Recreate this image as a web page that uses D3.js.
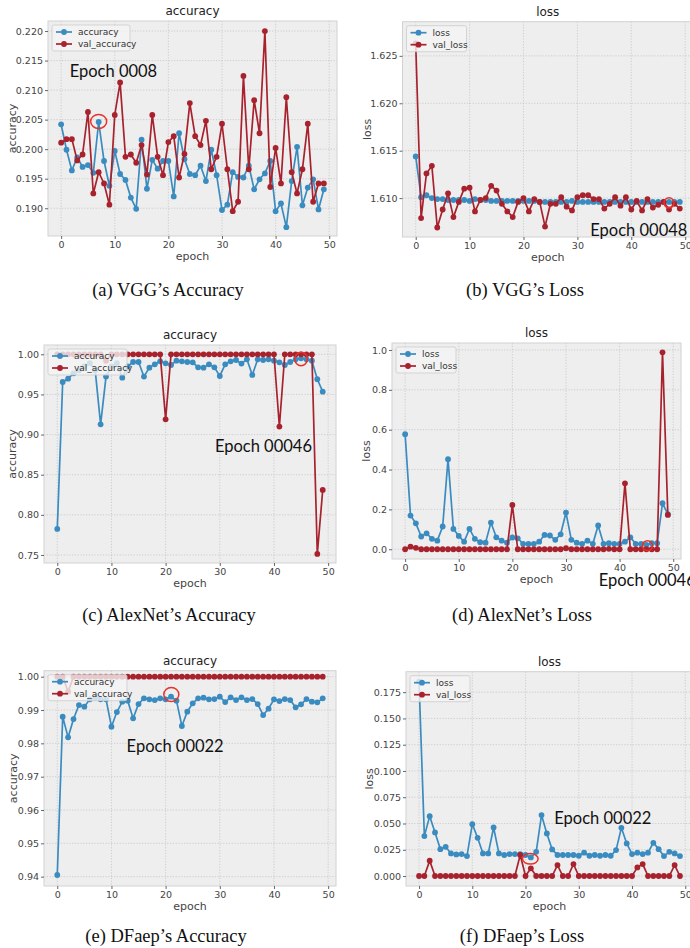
<!DOCTYPE html>
<html lang="en">
<head>
<meta charset="UTF-8">
<title>Training curves</title>
<style>
  * { margin: 0; padding: 0; }
  body { background: #fff; }
  text { font-family: "DejaVu Sans", sans-serif; }
</style>
</head>
<body>
<div id="chart"></div>
<script src="https://cdn.jsdelivr.net/npm/d3@7"></script>
<script>
// ---- data ----
const epochs = d3.range(50)
const xTicks = [0, 10, 20, 30, 40, 50]

const vggAcc = [0.2042, 0.1999, 0.1964, 0.1986, 0.1970, 0.1973, 0.1960, 0.2046, 0.1980, 0.1938,
  0.1997, 0.1958, 0.1948, 0.1918, 0.1899, 0.2016, 0.1933, 0.1982, 0.1967, 0.1980,
  0.1980, 0.1920, 0.2027, 0.1983, 0.1958, 0.1956, 0.1972, 0.1946, 0.1999, 0.1956,
  0.1897, 0.1906, 0.1961, 0.1953, 0.1952, 0.1972, 0.1932, 0.1949, 0.1959, 0.1980,
  0.1895, 0.1908, 0.1868, 0.1946, 0.2004, 0.1905, 0.1935, 0.1949, 0.1898, 0.1932]
const vggValAcc = [0.2011, 0.2017, 0.2017, 0.1981, 0.1991, 0.2063, 0.1925, 0.1961, 0.1942, 0.1906,
  0.2058, 0.2113, 0.1987, 0.1991, 0.1977, 0.2007, 0.1957, 0.2058, 0.1987, 0.1956,
  0.2012, 0.2022, 0.1952, 0.1992, 0.2078, 0.2022, 0.2007, 0.2048, 0.1966, 0.1987,
  0.2043, 0.1966, 0.1895, 0.1911, 0.2124, 0.1966, 0.2083, 0.2027, 0.2200, 0.1936,
  0.2002, 0.1942, 0.2088, 0.1961, 0.1925, 0.1966, 0.2043, 0.1911, 0.1942, 0.1942]
const vggLoss = [1.6144, 1.6101, 1.6103, 1.6100, 1.6099, 1.6099, 1.6098, 1.6098, 1.6098, 1.6098,
  1.6097, 1.6099, 1.6098, 1.6098, 1.6097, 1.6097, 1.6097, 1.6097, 1.6097, 1.6097,
  1.6097, 1.6097, 1.6097, 1.6096, 1.6096, 1.6096, 1.6096, 1.6096, 1.6096, 1.6097,
  1.6096, 1.6096, 1.6096, 1.6096, 1.6096, 1.6096, 1.6096, 1.6096, 1.6096, 1.6096,
  1.6096, 1.6096, 1.6096, 1.6096, 1.6096, 1.6096, 1.6096, 1.6096, 1.6096, 1.6096]
const vggValLoss = [1.6263, 1.6079, 1.6126, 1.6134, 1.6069, 1.6088, 1.6105, 1.6080, 1.6096, 1.6110,
  1.6111, 1.6086, 1.6098, 1.6100, 1.6113, 1.6108, 1.6094, 1.6086, 1.6080, 1.6096,
  1.6100, 1.6086, 1.6099, 1.6096, 1.6070, 1.6094, 1.6094, 1.6101, 1.6091, 1.6087,
  1.6101, 1.6103, 1.6103, 1.6099, 1.6099, 1.6089, 1.6094, 1.6101, 1.6092, 1.6101,
  1.6088, 1.6097, 1.6087, 1.6099, 1.6090, 1.6093, 1.6096, 1.6088, 1.6094, 1.6089]

const alexAcc = [0.7824, 0.9655, 0.9697, 0.9763, 0.9800, 0.9850, 0.9890, 0.9800, 0.9128, 0.9722,
  0.9850, 0.9890, 0.9709, 0.9850, 0.9904, 0.9904, 0.9722, 0.9834, 0.9875, 0.9913,
  0.9888, 0.9867, 0.9921, 0.9913, 0.9904, 0.9900, 0.9838, 0.9834, 0.9875, 0.9838,
  0.9730, 0.9875, 0.9913, 0.9929, 0.9884, 0.9938, 0.9743, 0.9938, 0.9929, 0.9938,
  0.9921, 0.9900, 0.9867, 0.9904, 0.9938, 0.9950, 0.9938, 0.9921, 0.9689, 0.9535]
const alexValAcc = [1, 1, 1, 1, 1, 1, 1, 1, 1, 0.992,
  1, 1, 1, 1, 1, 1, 1, 1, 1, 1,
  0.919, 1, 1, 1, 1, 1, 1, 1, 1, 1,
  1, 1, 1, 1, 1, 1, 1, 1, 1, 1,
  1, 0.910, 1, 1, 1, 1, 1, 1, 0.7513, 0.831]
const alexLoss = [0.577, 0.169, 0.130, 0.064, 0.080, 0.052, 0.043, 0.114, 0.452, 0.102,
  0.067, 0.038, 0.102, 0.052, 0.035, 0.033, 0.134, 0.060, 0.043, 0.033,
  0.059, 0.055, 0.027, 0.027, 0.027, 0.038, 0.072, 0.069, 0.047, 0.075,
  0.184, 0.047, 0.033, 0.027, 0.043, 0.027, 0.119, 0.027, 0.030, 0.027,
  0.027, 0.038, 0.060, 0.027, 0.027, 0.022, 0.030, 0.030, 0.231, 0.176]
const alexValLoss = [0.000, 0.013, 0.007, 0.000, 0.000, 0.000, 0.000, 0.000, 0.000, 0.000,
  0.000, 0.000, 0.000, 0.000, 0.000, 0.000, 0.000, 0.000, 0.000, 0.000,
  0.222, 0.000, 0.000, 0.000, 0.000, 0.000, 0.000, 0.000, 0.000, 0.000,
  0.005, 0.000, 0.000, 0.000, 0.000, 0.000, 0.000, 0.000, 0.002, 0.000,
  0.000, 0.331, 0.000, 0.000, 0.000, 0.000, 0.000, 0.000, 0.988, 0.172]

const dfaepAcc = [0.9405, 0.9880, 0.9818, 0.9873, 0.9915, 0.9910, 0.9932, 0.9937, 0.9932, 0.9932,
  0.9850, 0.9894, 0.9925, 0.9928, 0.9875, 0.9918, 0.9935, 0.9932, 0.9930, 0.9935,
  0.9932, 0.9940, 0.9928, 0.9852, 0.9895, 0.9920, 0.9935, 0.9937, 0.9932, 0.9933,
  0.9940, 0.9924, 0.9938, 0.9930, 0.9938, 0.9930, 0.9933, 0.9918, 0.9885, 0.9904,
  0.9932, 0.9927, 0.9933, 0.9930, 0.9908, 0.9917, 0.9933, 0.9925, 0.9923, 0.9935]
const dfaepValAcc = [1, 1, 0.9955, 1, 1, 1, 1, 1, 1, 1,
  1, 1, 1, 1, 1, 1, 1, 1, 1, 1,
  1, 1, 1, 1, 1, 1, 1, 1, 1, 1,
  1, 1, 1, 1, 1, 1, 1, 1, 1, 1,
  1, 1, 1, 1, 1, 1, 1, 1, 1, 1]
const dfaepLoss = [0.185, 0.038, 0.057, 0.0415, 0.0256, 0.0278, 0.0215, 0.0206, 0.0209, 0.019,
  0.0494, 0.0364, 0.0215, 0.0215, 0.0462, 0.0215, 0.020, 0.0209, 0.0209, 0.0209,
  0.020, 0.0177, 0.023, 0.058, 0.0405, 0.0253, 0.020, 0.020, 0.020, 0.020,
  0.0193, 0.0222, 0.0193, 0.020, 0.0193, 0.020, 0.0193, 0.0247, 0.0459, 0.031,
  0.0209, 0.0222, 0.0209, 0.0222, 0.0316, 0.0256, 0.019, 0.023, 0.0215, 0.019]
const dfaepValLoss = [0, 0, 0.0146, 0, 0, 0, 0, 0, 0, 0,
  0, 0, 0, 0, 0, 0, 0, 0, 0, 0.020,
  0, 0.0073, 0, 0, 0, 0, 0.0104, 0, 0, 0.0114,
  0, 0, 0, 0, 0, 0, 0, 0, 0, 0,
  0, 0.0082, 0.0114, 0, 0, 0, 0, 0, 0.0104, 0]

const vggAccTicks = [0.190, 0.195, 0.200, 0.205, 0.210, 0.215, 0.220]
const vggLossTicks = [1.610, 1.615, 1.620, 1.625]
const alexAccTicks = [0.75, 0.80, 0.85, 0.90, 0.95, 1.00]
const alexLossTicks = [0.0, 0.2, 0.4, 0.6, 0.8, 1.0]
const dfaepAccTicks = [0.94, 0.95, 0.96, 0.97, 0.98, 0.99, 1.00]
const dfaepLossTicks = [0.000, 0.025, 0.050, 0.075, 0.100, 0.125, 0.150, 0.175]

const accNames = ['accuracy', 'val_accuracy']
const lossNames = ['loss', 'val_loss']
const captions = ["(a) VGG\u2019s Accuracy", "(b) VGG\u2019s Loss",
  "(c) AlexNet\u2019s Accuracy", "(d) AlexNet\u2019s Loss",
  "(e) DFaep\u2019s Accuracy", "(f) DFaep\u2019s Loss"]
// highlighted epoch markers: [epoch, value] for circle, label text
const marks = [
  {label: 'Epoch 0008', at: [7, 0.2047], text: [1.6, 0.2132]},
  {label: 'Epoch 00048', at: [47, 1.6095], text: [32.4, 1.6066]},
  {label: 'Epoch 00046', at: [45, 0.9941], text: [29.1, 0.8858]},
  {label: 'Epoch 00046', at: [45.2, 0.018], text: [36.1, -0.154]},
  {label: 'Epoch 00022', at: [21.05, 0.99466], text: [12.8, 0.9792]},
  {label: 'Epoch 00022', at: [20.9, 0.0164], text: [25.4, 0.0551]}
]

const blue = '#3a8cc0'
const red = '#a8222e'

const svg = d3.select('#chart').append('svg')
  .attr('width', 690)
  .attr('height', 948)
  .style('background-color', 'white')

const panels = [
  {left: 48, right: 337, top: 21, bottom: 236, yDomain: [0.1853, 0.2217], yTicks: vggAccTicks, fmt: '.3f',
   title: 'accuracy', ylab: 'accuracy', ylabX: 12, series: [vggAcc, vggValAcc], names: accNames,
   legW: 78, capX: 168, capY: 290, ring: [8, 7]},
  {left: 402.5, right: 693, top: 21.7, bottom: 237, yDomain: [1.6059, 1.6286], yTicks: vggLossTicks, fmt: '.3f',
   title: 'loss', ylab: 'loss', ylabX: 367, series: [vggLoss, vggValLoss], names: lossNames,
   legW: 60, capX: 525, capY: 290, ring: [5, 5]},
  {left: 44, right: 336, top: 345, bottom: 563, yDomain: [0.740, 1.0116], yTicks: alexAccTicks, fmt: '.2f',
   title: 'accuracy', ylab: 'accuracy', ylabX: 12, series: [alexAcc, alexValAcc], names: accNames,
   legW: 79, capX: 169, capY: 615, ring: [6.3, 6.7]},
  {left: 392, right: 681, top: 343, bottom: 559, yDomain: [-0.049, 1.035], yTicks: alexLossTicks, fmt: '.1f',
   title: 'loss', ylab: 'loss', ylabX: 366, series: [alexLoss, alexValLoss], names: lossNames,
   legW: 60, capX: 522, capY: 615, ring: [5, 5]},
  {left: 44, right: 336, top: 670.7, bottom: 886, yDomain: [0.9372, 1.0018], yTicks: dfaepAccTicks, fmt: '.2f',
   title: 'accuracy', ylab: 'accuracy', ylabX: 13, series: [dfaepAcc, dfaepValAcc], names: accNames,
   legW: 79, capX: 166, capY: 936, ring: [7.5, 7]},
  {left: 406, right: 693, top: 671.7, bottom: 886, yDomain: [-0.0095, 0.1945], yTicks: dfaepLossTicks, fmt: '.3f',
   title: 'loss', ylab: 'loss', ylabX: 369, series: [dfaepLoss, dfaepValLoss], names: lossNames,
   legW: 60, capX: 522, capY: 936, ring: [7.8, 5.3]}
]

panels.forEach((p, i) => {
  const x = d3.scaleLinear().domain([-2.45, 51.45]).range([p.left, p.right])
  const y = d3.scaleLinear().domain(p.yDomain).range([p.bottom, p.top])
  const g = svg.append('g')
  const cid = 'clip' + i
  g.append('clipPath').attr('id', cid).append('rect')
    .attr('x', p.left).attr('y', p.top)
    .attr('width', p.right - p.left).attr('height', p.bottom - p.top)

  g.append('rect')
    .attr('x', p.left).attr('y', p.top)
    .attr('width', p.right - p.left).attr('height', p.bottom - p.top)
    .attr('fill', '#eeeeee')

  // grid
  g.selectAll('.gx').data(xTicks).enter().append('line')
    .attr('x1', d => x(d)).attr('x2', d => x(d))
    .attr('y1', p.top).attr('y2', p.bottom)
    .attr('stroke', '#c4c4c4').attr('stroke-width', 0.8).attr('stroke-dasharray', '1.2,1.6')
  g.selectAll('.gy').data(p.yTicks).enter().append('line')
    .attr('x1', p.left).attr('x2', p.right)
    .attr('y1', d => y(d)).attr('y2', d => y(d))
    .attr('stroke', '#c4c4c4').attr('stroke-width', 0.8).attr('stroke-dasharray', '1.2,1.6')

  g.append('rect')
    .attr('x', p.left).attr('y', p.top)
    .attr('width', p.right - p.left).attr('height', p.bottom - p.top)
    .attr('fill', 'none').attr('stroke', '#d2d2d2').attr('stroke-width', 1)

  // axes
  const xAxis = d3.axisBottom(x).tickValues(xTicks).tickSize(3).tickPadding(2)
  const yAxis = d3.axisLeft(y).tickValues(p.yTicks).tickSize(3).tickPadding(2).tickFormat(d3.format(p.fmt))
  const gx = g.append('g').attr('transform', `translate(0,${p.bottom})`).call(xAxis)
  const gy = g.append('g').attr('transform', `translate(${p.left},0)`).call(yAxis)
  ;[gx, gy].forEach(a => {
    a.select('.domain').remove()
    a.selectAll('line').attr('stroke', '#666')
    a.selectAll('text').attr('fill', '#444').style('font-size', '9.5px')
  })

  g.append('text').attr('x', (p.left + p.right) / 2).attr('y', p.top - 6)
    .attr('text-anchor', 'middle').style('font-size', '12px').attr('fill', '#222').text(p.title)
  g.append('text').attr('x', (p.left + p.right) / 2).attr('y', p.bottom + 24)
    .attr('text-anchor', 'middle').style('font-size', '11px').attr('fill', '#444').text('epoch')
  g.append('text')
    .attr('transform', `translate(${p.ylabX},${(p.top + p.bottom) / 2}) rotate(-90)`)
    .attr('dy', '0.35em')
    .attr('text-anchor', 'middle').style('font-size', '11px').attr('fill', '#444').text(p.ylab)

  // lines + markers
  const plot = g.append('g').attr('clip-path', `url(#${cid})`)
  const line = d3.line().x((d, j) => x(epochs[j])).y(d => y(d))
  const colors = [blue, red]
  p.series.forEach((s, k) => {
    plot.append('path').datum(s)
      .attr('d', line).attr('fill', 'none')
      .attr('stroke', colors[k]).attr('stroke-width', 1.7)
    plot.selectAll('.m' + k).data(s).enter().append('circle')
      .attr('cx', (d, j) => x(epochs[j])).attr('cy', d => y(d))
      .attr('r', 2.9).attr('fill', colors[k])
  })

  // legend
  const lx = p.left + 4, ly = p.top + 4
  g.append('rect').attr('x', lx).attr('y', ly).attr('width', p.legW).attr('height', 26)
    .attr('rx', 2).attr('fill', '#f4f4f4').attr('fill-opacity', 0.8)
    .attr('stroke', '#cccccc').attr('stroke-opacity', 0.8)
  p.names.forEach((n, k) => {
    const yy = ly + 7 + k * 12
    g.append('line').attr('x1', lx + 4).attr('x2', lx + 20).attr('y1', yy).attr('y2', yy)
      .attr('stroke', colors[k]).attr('stroke-width', 1.7)
    g.append('circle').attr('cx', lx + 12).attr('cy', yy).attr('r', 2.9).attr('fill', colors[k])
    g.append('text').attr('x', lx + 26).attr('y', yy).attr('dy', '0.35em')
      .style('font-size', '9px').attr('fill', '#333').text(n)
  })

  // highlighted epoch
  const m = marks[i]
  g.append('ellipse').attr('cx', x(m.at[0])).attr('cy', y(m.at[1]))
    .attr('rx', p.ring[0]).attr('ry', p.ring[1])
    .attr('fill', 'none').attr('stroke', '#e8312a').attr('stroke-width', 1.5)
  g.append('text').attr('x', x(m.text[0])).attr('y', y(m.text[1])).attr('dy', '0.35em')
    .style('font-family', 'Lato, "Open Sans", sans-serif').style('font-size', '16.5px')
    .attr('fill', '#111').text(m.label)

  svg.append('text').attr('x', p.capX).attr('y', p.capY).attr('dy', '0.35em')
    .attr('text-anchor', 'middle')
    .style('font-family', '"Liberation Serif", "Times New Roman", serif').style('font-size', '18.5px')
    .attr('fill', '#111').text(captions[i])
})
</script>
</body>
</html>
